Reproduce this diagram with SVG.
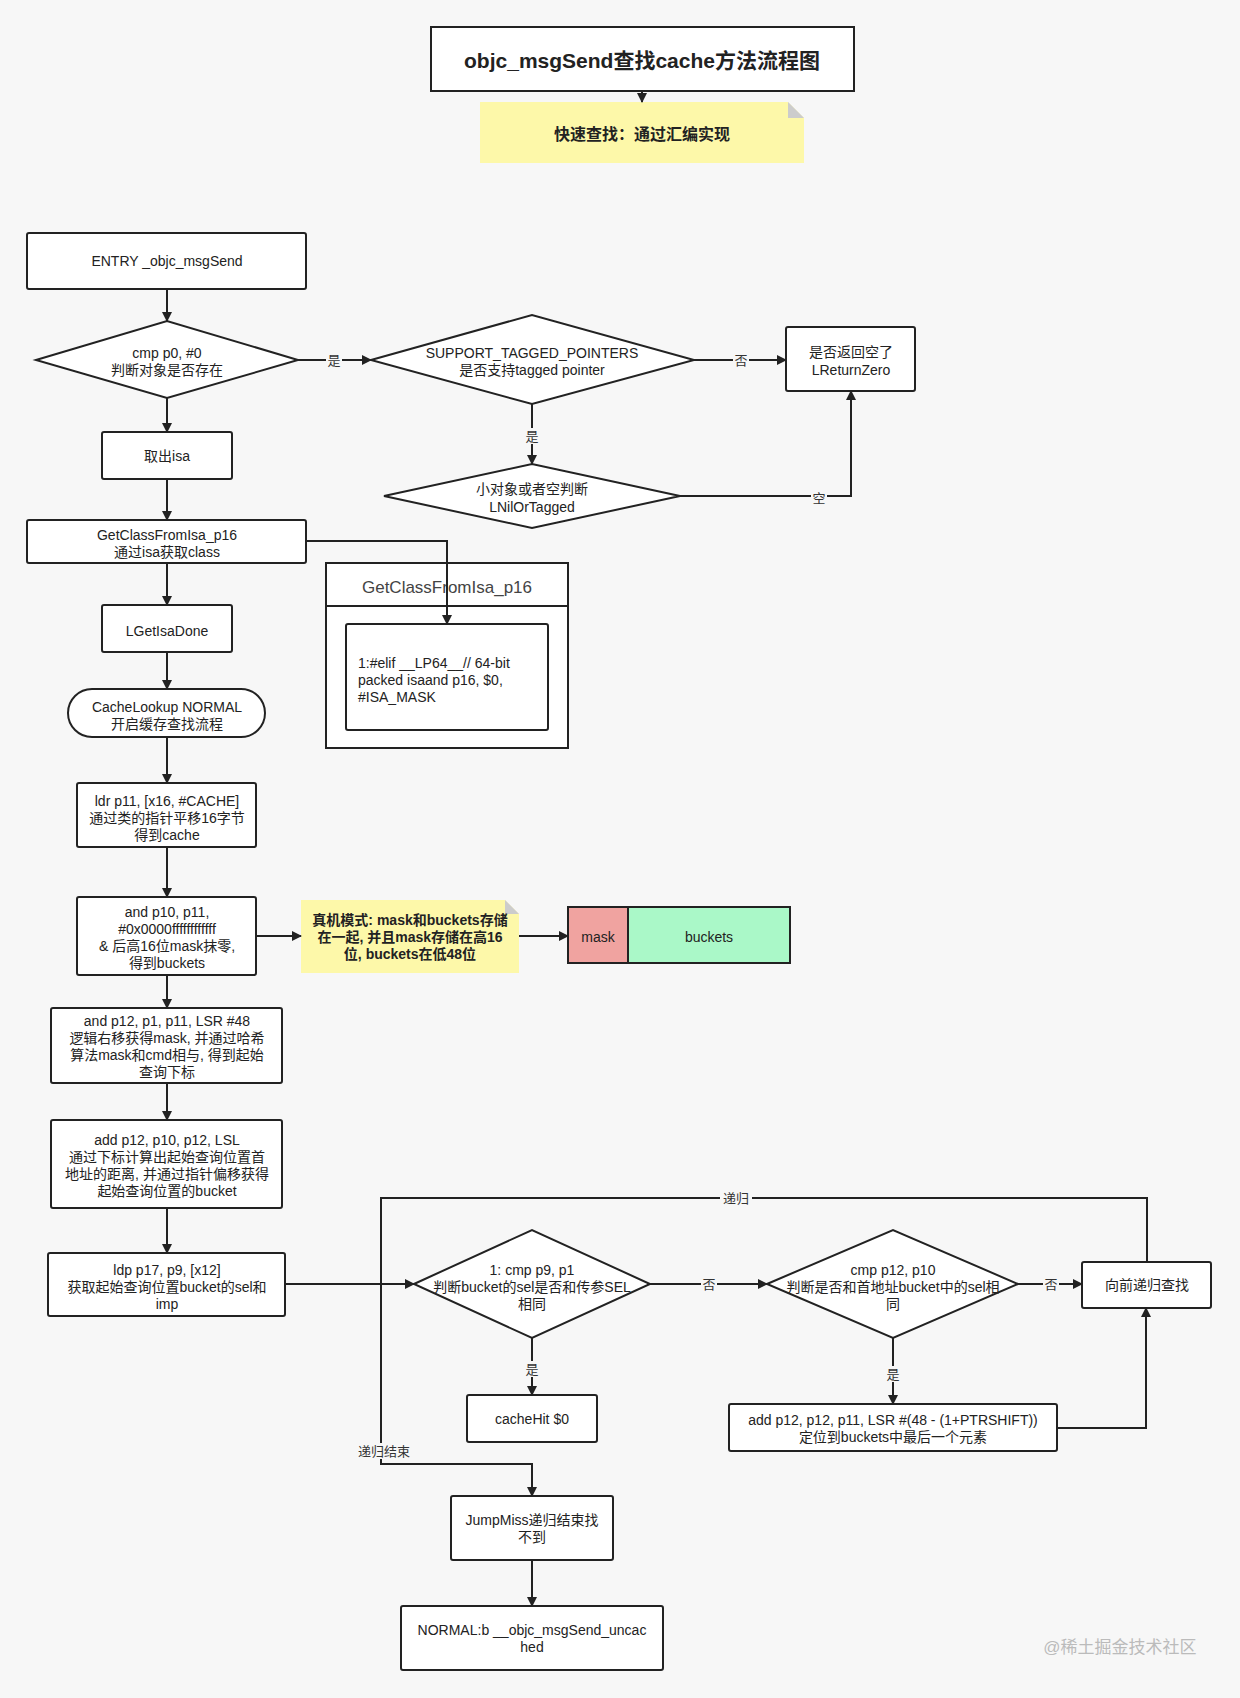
<svg xmlns="http://www.w3.org/2000/svg" width="1240" height="1698" viewBox="0 0 1240 1698">
<defs>
<marker id="ah" markerWidth="10" markerHeight="10" refX="9" refY="5" orient="auto" markerUnits="userSpaceOnUse"><path d="M0,0 L10,5 L0,10 z" fill="#222"/></marker>
<style>
.n{fill:#fff;stroke:#222;stroke-width:2}
.t{font-family:"Liberation Sans","Noto Sans CJK SC",sans-serif;font-size:14px;fill:#222;text-anchor:middle}
.c{fill:none;stroke:#222;stroke-width:2;marker-end:url(#ah)}
.l{fill:none;stroke:#222;stroke-width:2}
.lb{font-family:"Liberation Sans","Noto Sans CJK SC",sans-serif;font-size:13px;fill:#333;text-anchor:middle}
.lbg{fill:#f7f7f7}
</style>
</defs>
<rect width="1240" height="1698" fill="#f7f7f7"/>
<g id="title"><rect class="n" x="431" y="27" width="423" height="64"/><text class="t" x="642" y="68" style="font-size:21px;font-weight:bold">objc_msgSend查找cache方法流程图</text></g>
<g id="note1"><path d="M480,102 H788 L804,118 V163 H480 z" fill="#fdf8a9"/><path d="M788,102 L804,118 H788 z" fill="#ccc"/><text class="t" x="642" y="140" style="font-size:16px;font-weight:bold">快速查找：通过汇编实现</text></g>
<g id="entry"><rect class="n" x="27" y="233" width="279" height="56" rx="2"/><text class="t" x="167" y="266">ENTRY _objc_msgSend</text></g>
<g id="d1"><path class="n" d="M36,360 L167,321 L298,360 L167,398 z"/><text class="t" x="167" y="358">cmp p0, #0</text><text class="t" x="167" y="375">判断对象是否存在</text></g>
<g id="d2"><path class="n" d="M371,360 L532,315 L694,360 L532,404 z"/><text class="t" x="532" y="358">SUPPORT_TAGGED_POINTERS</text><text class="t" x="532" y="375">是否支持tagged pointer</text></g>
<g id="retzero"><rect class="n" x="786" y="327" width="129" height="64" rx="2"/><text class="t" x="851" y="357">是否返回空了</text><text class="t" x="851" y="375">LReturnZero</text></g>
<g id="isa"><rect class="n" x="102" y="432" width="130" height="47" rx="2"/><text class="t" x="167" y="461">取出isa</text></g>
<g id="d3"><path class="n" d="M384,496 L532,464 L680,496 L532,528 z"/><text class="t" x="532" y="494">小对象或者空判断</text><text class="t" x="532" y="512">LNilOrTagged</text></g>
<g id="getclass"><rect class="n" x="27" y="520" width="279" height="43" rx="2"/><text class="t" x="167" y="540">GetClassFromIsa_p16</text><text class="t" x="167" y="557">通过isa获取class</text></g>
<g id="container"><rect class="n" x="326" y="563" width="242" height="185"/><line class="l" x1="326" y1="606" x2="568" y2="606"/><text class="t" x="447" y="593" style="font-size:17px;fill:#444">GetClassFromIsa_p16</text></g>
<g id="inner"><rect class="n" x="346" y="624" width="202" height="106" rx="2"/><text class="t" x="358" y="668" style="text-anchor:start">1:#elif __LP64__// 64-bit</text><text class="t" x="358" y="685" style="text-anchor:start">packed isaand p16, $0,</text><text class="t" x="358" y="702" style="text-anchor:start">#ISA_MASK</text></g>
<g id="done"><rect class="n" x="102" y="605" width="130" height="47" rx="2"/><text class="t" x="167" y="636">LGetIsaDone</text></g>
<g id="cachelookup"><rect class="n" x="68" y="689" width="197" height="48" rx="24"/><text class="t" x="167" y="712">CacheLookup NORMAL</text><text class="t" x="167" y="729">开启缓存查找流程</text></g>
<g id="ldr"><rect class="n" x="77" y="783" width="179" height="64" rx="2"/><text class="t" x="167" y="806">ldr p11, [x16, #CACHE]</text><text class="t" x="167" y="823">通过类的指针平移16字节</text><text class="t" x="167" y="840">得到cache</text></g>
<g id="andp10"><rect class="n" x="77" y="897" width="179" height="78" rx="2"/><text class="t" x="167" y="917">and p10, p11,</text><text class="t" x="167" y="934">#0x0000ffffffffffff</text><text class="t" x="167" y="951">&amp; 后高16位mask抹零,</text><text class="t" x="167" y="968">得到buckets</text></g>
<g id="note2"><path d="M301,900 H505 L519,914 V973 H301 z" fill="#fdf8a9"/><path d="M505,900 L519,914 H505 z" fill="#ccc"/><text class="t" x="410" y="925" style="font-weight:bold">真机模式: mask和buckets存储</text><text class="t" x="410" y="942" style="font-weight:bold">在一起, 并且mask存储在高16</text><text class="t" x="410" y="959" style="font-weight:bold">位, buckets在低48位</text></g>
<g id="maskbuckets"><rect x="568" y="907" width="60" height="56" fill="#f0a3a0" stroke="#222" stroke-width="2"/><rect x="628" y="907" width="162" height="56" fill="#aaf8c8" stroke="#222" stroke-width="2"/><text class="t" x="598" y="942">mask</text><text class="t" x="709" y="942">buckets</text></g>
<g id="andp12"><rect class="n" x="51" y="1008" width="231" height="75" rx="2"/><text class="t" x="167" y="1026">and p12, p1, p11, LSR #48</text><text class="t" x="167" y="1043">逻辑右移获得mask, 并通过哈希</text><text class="t" x="167" y="1060">算法mask和cmd相与, 得到起始</text><text class="t" x="167" y="1077">查询下标</text></g>
<g id="add"><rect class="n" x="51" y="1120" width="231" height="88" rx="2"/><text class="t" x="167" y="1145">add p12, p10, p12, LSL</text><text class="t" x="167" y="1162">通过下标计算出起始查询位置首</text><text class="t" x="167" y="1179">地址的距离, 并通过指针偏移获得</text><text class="t" x="167" y="1196">起始查询位置的bucket</text></g>
<g id="ldp"><rect class="n" x="48" y="1253" width="237" height="63" rx="2"/><text class="t" x="167" y="1275">ldp p17, p9, [x12]</text><text class="t" x="167" y="1292">获取起始查询位置bucket的sel和</text><text class="t" x="167" y="1309">imp</text></g>
<g id="d4"><path class="n" d="M414,1284 L532,1230 L650,1284 L532,1338 z"/><text class="t" x="532" y="1275">1: cmp p9, p1</text><text class="t" x="532" y="1292">判断bucket的sel是否和传参SEL</text><text class="t" x="532" y="1309">相同</text></g>
<g id="d5"><path class="n" d="M767,1284 L893,1230 L1018,1284 L893,1338 z"/><text class="t" x="893" y="1275">cmp p12, p10</text><text class="t" x="893" y="1292">判断是否和首地址bucket中的sel相</text><text class="t" x="893" y="1309">同</text></g>
<g id="recur"><rect class="n" x="1082" y="1262" width="129" height="46" rx="2"/><text class="t" x="1147" y="1290">向前递归查找</text></g>
<g id="cachehit"><rect class="n" x="467" y="1395" width="130" height="47" rx="2"/><text class="t" x="532" y="1424">cacheHit $0</text></g>
<g id="addlast"><rect class="n" x="729" y="1404" width="328" height="47" rx="2"/><text class="t" x="893" y="1425">add p12, p12, p11, LSR #(48 - (1+PTRSHIFT))</text><text class="t" x="893" y="1442">定位到buckets中最后一个元素</text></g>
<g id="jumpmiss"><rect class="n" x="451" y="1496" width="162" height="64" rx="2"/><text class="t" x="532" y="1525">JumpMiss递归结束找</text><text class="t" x="532" y="1542">不到</text></g>
<g id="normal"><rect class="n" x="401" y="1606" width="262" height="64" rx="2"/><text class="t" x="532" y="1635">NORMAL:b __objc_msgSend_uncac</text><text class="t" x="532" y="1652">hed</text></g>
<g id="connectors">
<path class="c" d="M642,91 V102"/>
<path class="c" d="M167,289 V321"/>
<path class="c" d="M298,360 H371"/>
<path class="c" d="M694,360 H786"/>
<path class="c" d="M532,404 V464"/>
<path class="c" d="M680,496 H851 V391"/>
<path class="c" d="M167,398 V432"/>
<path class="c" d="M167,479 V520"/>
<path class="c" d="M306,541 H447 V624"/>
<path class="c" d="M167,563 V605"/>
<path class="c" d="M167,652 V689"/>
<path class="c" d="M167,737 V783"/>
<path class="c" d="M167,847 V897"/>
<path class="c" d="M256,936 H301"/>
<path class="c" d="M519,936 H568"/>
<path class="c" d="M167,975 V1008"/>
<path class="c" d="M167,1083 V1120"/>
<path class="c" d="M167,1208 V1253"/>
<path class="c" d="M285,1284 H414"/>
<path class="c" d="M650,1284 H767"/>
<path class="c" d="M1018,1284 H1082"/>
<path class="c" d="M532,1338 V1395"/>
<path class="c" d="M893,1338 V1404"/>
<path class="c" d="M1057,1428 H1146 V1308"/>
<path class="c" d="M1147,1262 V1198 H381 V1464 H532 V1496"/>
<path class="c" d="M532,1560 V1606"/>
<rect class="lbg" x="326" y="352" width="16" height="16"/><text class="lb" x="334" y="365">是</text>
<rect class="lbg" x="733" y="352" width="16" height="16"/><text class="lb" x="741" y="365">否</text>
<rect class="lbg" x="524" y="428" width="16" height="16"/><text class="lb" x="532" y="441">是</text>
<rect class="lbg" x="811" y="490" width="16" height="16"/><text class="lb" x="819" y="503">空</text>
<rect class="lbg" x="701" y="1276" width="16" height="16"/><text class="lb" x="709" y="1289">否</text>
<rect class="lbg" x="1043" y="1276" width="16" height="16"/><text class="lb" x="1051" y="1289">否</text>
<rect class="lbg" x="524" y="1361" width="16" height="16"/><text class="lb" x="532" y="1374">是</text>
<rect class="lbg" x="885" y="1366" width="16" height="16"/><text class="lb" x="893" y="1379">是</text>
<rect class="lbg" x="720" y="1190" width="32" height="16"/><text class="lb" x="736" y="1203">递归</text>
<rect class="lbg" x="355" y="1443" width="56" height="16"/><text class="lb" x="384" y="1456">递归结束</text>
</g>
<text x="1120" y="1653" style="font-family:'Liberation Sans','Noto Sans CJK SC',sans-serif;font-size:17px;fill:#bbb;text-anchor:middle">@稀土掘金技术社区</text>
</svg>
